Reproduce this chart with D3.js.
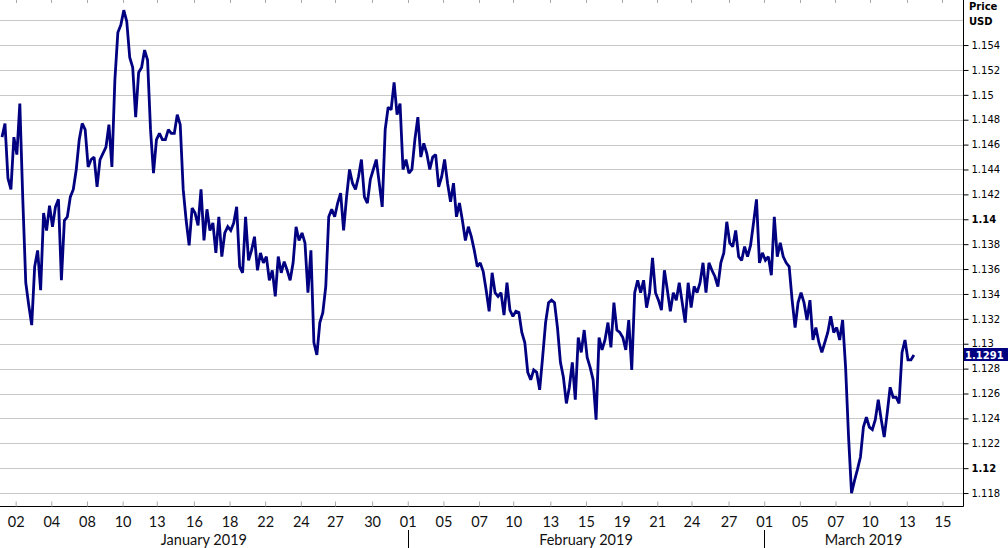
<!DOCTYPE html>
<html><head><meta charset="utf-8">
<script src="https://cdn.jsdelivr.net/npm/d3@7"></script>
<style>body{margin:0;background:#fff}svg{display:block}</style>
</head><body>
<svg id="c" width="1008" height="548"></svg>
<script>
// ---------- data ----------
const tickDates = ["2019-01-02","2019-01-04","2019-01-08","2019-01-10","2019-01-13","2019-01-16","2019-01-18","2019-01-22","2019-01-24","2019-01-27","2019-01-30",
  "2019-02-01","2019-02-05","2019-02-07","2019-02-10","2019-02-13","2019-02-15","2019-02-19","2019-02-21","2019-02-24","2019-02-27",
  "2019-03-01","2019-03-05","2019-03-07","2019-03-10","2019-03-13","2019-03-15"];
const monthStarts = ["2019-01-01","2019-02-01","2019-03-01"];
const monthLabels = ["January 2019","February 2019","March 2019"];
const yTickValues = [1.118,1.12,1.122,1.124,1.126,1.128,1.13,1.132,1.134,1.136,1.138,1.14,1.142,1.144,1.146,1.148,1.15,1.152,1.154];
const yBoldValues = [1.12,1.14];
const yGridExtra = [1.156];
const axisTitle = ["Price","USD"];
const seriesStart = "2019-01-01T05:36:00Z";   // first quote
const stepHours = 4;                           // trading hours between quotes
const prices = [
1.1466,1.1477,1.1433,1.1424,1.1466,1.1452,1.1493,1.1416,1.1349,1.1331,
1.1315,1.1362,1.1375,1.1343,1.1405,1.1391,1.1411,1.1394,1.1410,1.1416,
1.1351,1.1399,1.1402,1.1418,1.1424,1.1440,1.1464,1.1477,1.1472,1.1442,
1.1448,1.1450,1.1426,1.1448,1.1453,1.1458,1.1476,1.1442,1.1512,1.1550,
1.1556,1.1568,1.1559,1.1530,1.1522,1.1482,1.1518,1.1522,1.1536,1.1528,
1.1472,1.1437,1.1464,1.1469,1.1464,1.1464,1.1472,1.1469,1.1469,1.1484,
1.1476,1.1424,1.1399,1.1379,1.1409,
1.1405,1.1395,1.1424,1.1383,1.1408,1.1391,1.1397,1.1373,1.1402,1.1370,
1.1389,1.1394,1.1391,1.1397,1.1410,1.1362,1.1357,1.1402,1.1367,1.1375,
1.1386,1.1359,1.1373,1.1365,1.1370,1.1351,1.1359,1.1338,1.1370,1.1357,
1.1366,1.1359,1.1351,1.1365,1.1394,1.1383,1.1389,1.1381,1.1341,1.1375,
1.1301,1.1291,1.1317,1.1325,1.1346,1.1402,1.1408,1.1402,1.1413,1.1421,
1.1391,1.1418,1.1440,1.1429,1.1424,1.1434,1.1448,1.1418,1.1413,1.1432,
1.1440,1.1448,1.1429,1.1410,1.1472,1.1490,
1.1488,1.1510,1.1484,1.1493,1.1440,1.1448,1.1437,1.1440,1.1464,1.1482,
1.1450,1.1461,1.1453,1.1440,1.1450,1.1452,1.1426,1.1434,1.1448,1.1429,
1.1414,1.1429,1.1402,1.1413,1.1399,1.1383,1.1394,1.1386,1.1375,1.1362,
1.1365,1.1358,1.1343,1.1326,1.1357,1.1341,1.1338,1.1341,1.1323,1.1349,
1.1327,1.1322,1.1326,1.1325,1.1309,1.1301,1.1277,1.1271,1.1279,1.1277,
1.1263,1.1289,1.1317,1.1333,1.1335,1.1333,1.1313,1.1285,1.1273,1.1252,
1.1265,1.1285,1.1255,1.1305,1.1293,
1.1311,1.1289,1.1281,1.1271,1.1239,1.1305,1.1295,1.1303,1.1317,1.1297,
1.1333,1.1311,1.1309,1.1305,1.1295,1.1319,1.1279,1.1341,1.1351,1.1341,
1.1351,1.1329,1.1341,1.1369,1.1341,1.1335,1.1327,1.1359,1.1343,1.1326,
1.1341,1.1335,1.1349,1.1333,1.1317,1.1349,1.1329,1.1346,1.1341,1.1349,
1.1365,1.1341,1.1365,1.1359,1.1354,1.1346,1.1365,1.1373,1.1398,1.1381,
1.1378,1.1391,1.1370,1.1367,1.1378,1.1370,1.1379,1.1397,1.1416,1.1365,
1.1373,1.1367,1.1370,1.1355,1.1402,1.1370,
1.1381,1.1370,1.1365,1.1362,1.1335,1.1313,1.1333,1.1341,1.1333,1.1319,
1.1335,1.1303,1.1313,1.1301,1.1293,1.1301,1.1309,1.1322,1.1309,1.1313,
1.1303,1.1319,1.1281,1.1225,1.1180,1.1190,1.1199,1.1209,1.1233,1.1241,
1.1233,1.1231,1.1239,1.1255,1.1239,1.1225,1.1244,1.1265,1.1257,1.1257,
1.1252,1.1293,1.1303,1.1287,1.1287,1.1291];
const lastPrice = 1.1291;
const domainStart = "2019-01-01T02:54:00Z";
const domainEnd = "2019-03-18T03:42:00Z";
const yDomain = [1.11696, 1.15762];

// ---------- trading-time (weekends Fri 22:00 -> Sun 22:00 UTC removed) ----------
const REF = Date.UTC(2018, 11, 30, 22);
function tradingHours(d) {
  const h = (new Date(d) - REF) / 3600000;
  const w = Math.floor(h / 168);
  const o = h - w * 168;
  return w * 120 + Math.min(o, 120);
}

const W = 1008, H = 548;
const plotL = 0, plotR = 963, plotT = 0, plotB = 506;
const svg = d3.select("#c");

const x = d3.scaleLinear().domain([tradingHours(domainStart), tradingHours(domainEnd)]).range([plotL, plotR]);
const y = d3.scaleLinear().domain(yDomain).range([plotB, plotT]);

const t0 = tradingHours(seriesStart);
const series = prices.map((p, i) => ({h: t0 + i * stepHours, p}));

// gridlines
svg.append("g").selectAll("line").data(yTickValues.concat(yGridExtra)).join("line")
  .attr("x1", plotL).attr("x2", plotR)
  .attr("y1", d => Math.round(y(d)) + 0.5).attr("y2", d => Math.round(y(d)) + 0.5)
  .attr("stroke", "#c8c8c8").attr("stroke-width", 1);

// price line
svg.append("path").datum(series)
  .attr("fill", "none").attr("stroke", "#000080").attr("stroke-width", 2.8)
  .attr("stroke-linejoin", "miter").attr("stroke-miterlimit", 2)
  .attr("d", d3.line().x(d => x(d.h)).y(d => y(d.p)));

// right axis
const fmtY = v => String(+v.toFixed(3));
const isBold = v => yBoldValues.some(b => Math.abs(b - v) < 1e-9);
const yAxis = d3.axisRight(y).tickValues(yTickValues).tickSize(5).tickSizeOuter(0).tickPadding(3).tickFormat(fmtY);
const gy = svg.append("g").attr("transform", `translate(${plotR + 0.5},0)`).call(yAxis);
gy.select(".domain").attr("stroke", "#000").attr("d", `M0,${plotT}V${plotB + 0.5}`);
gy.selectAll(".tick line").attr("stroke", "#000");
gy.selectAll(".tick text").attr("fill", "#000")
  .style("font-family", "'DejaVu Sans', Verdana, sans-serif").style("font-size", "10px")
  .style("font-weight", d => isBold(d) ? "bold" : "normal");

// axis title
svg.append("g").selectAll("text").data(axisTitle).join("text")
  .attr("x", 969).attr("y", (d, i) => 10 + i * 15)
  .style("font-family", "'DejaVu Sans', Verdana, sans-serif").style("font-size", "10px").style("font-weight", "bold")
  .attr("fill", "#000").text(d => d);

// last price marker
const ly = y(lastPrice);
svg.append("rect").attr("x", plotR + 1).attr("y", Math.round(ly) - 7).attr("width", W - plotR - 1).attr("height", 13).attr("fill", "#000080");
svg.append("text").attr("x", plotR + 2).attr("y", Math.round(ly) + 4)
  .style("font-family", "'DejaVu Sans', Verdana, sans-serif").style("font-size", "10px").style("font-weight", "bold")
  .attr("fill", "#fff").text(lastPrice.toFixed(4));

// bottom axis
const tickH = tickDates.map(d => tradingHours(d + "T00:00:00Z"));
const xAxis = d3.axisBottom(x).tickValues(tickH).tickSize(-5).tickSizeOuter(0).tickPadding(10)
  .tickFormat((d, i) => tickDates[i].slice(8, 10));
const gx = svg.append("g").attr("transform", `translate(0,${plotB + 0.5})`).call(xAxis);
gx.select(".domain").attr("stroke", "#000").attr("d", `M${plotL},0H${plotR + 0.5}`);
gx.selectAll(".tick line").attr("stroke", "#aaa");
gx.selectAll(".tick text").attr("fill", "#111")
  .style("font-family", "Lato, 'Open Sans', sans-serif").style("font-size", "14.5px");

// top inner ticks
svg.append("g").selectAll("line").data(tickH).join("line")
  .attr("x1", d => Math.round(x(d)) + 0.5).attr("x2", d => Math.round(x(d)) + 0.5)
  .attr("y1", 0).attr("y2", 3).attr("stroke", "#aaa");

// month separators + labels
const mH = monthStarts.map(d => tradingHours(d + "T00:00:00Z"));
svg.append("g").selectAll("line").data(mH.slice(1)).join("line")
  .attr("x1", d => Math.round(x(d)) + 0.5).attr("x2", d => Math.round(x(d)) + 0.5)
  .attr("y1", 530).attr("y2", 548).attr("stroke", "#000");
svg.append("g").selectAll("text").data(monthLabels).join("text")
  .attr("x", (d, i) => {
    const a = Math.max(plotL, x(mH[i]));
    const b = i + 1 < mH.length ? x(mH[i + 1]) : plotR;
    return (a + b) / 2;
  })
  .attr("y", 545).attr("text-anchor", "middle").attr("fill", "#111")
  .style("font-family", "Lato, 'Open Sans', sans-serif").style("font-size", "14.5px")
  .text(d => d);
</script>
</body></html>
